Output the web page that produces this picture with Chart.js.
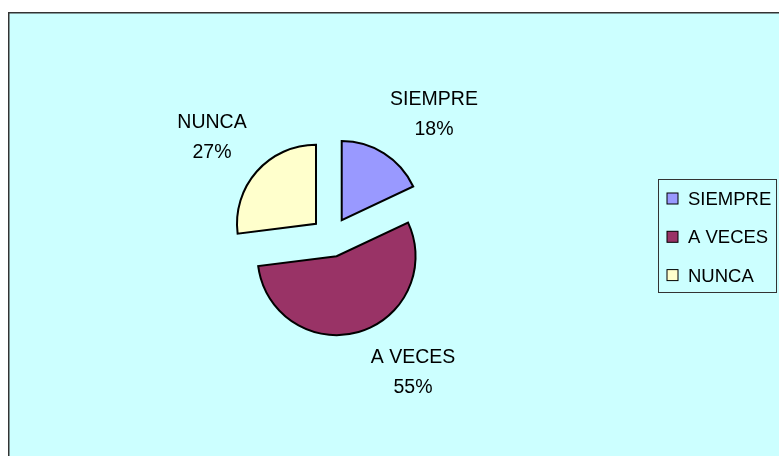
<!DOCTYPE html>
<html>
<head>
<meta charset="utf-8">
<script src="https://cdn.jsdelivr.net/npm/chart.js@4.4.1/dist/chart.umd.min.js"></script>
<style>
  html, body { margin: 0; padding: 0; background: #fff; overflow: hidden; }
  #wrap { position: relative; width: 779px; height: 456px; }
</style>
</head>
<body>
<div id="wrap"><canvas id="pie"></canvas></div>
<script>
// ---------- Data ----------
const categories = ['SIEMPRE', 'A VECES', 'NUNCA'];
const percents = [18, 55, 27];
const sliceColors = ['#9999FF', '#993366', '#FFFFCC'];

// ---------- Layout ----------
const FONT = '19.5px "Liberation Sans", Arial, sans-serif';
const LEGEND_FONT = '18.5px "Liberation Sans", Arial, sans-serif';
const PIE_RADIUS = 79;
const EXPLODE = 20;
// first-line baseline of each data label (name over percentage)
const labelSpots = [
  { x: 434, y: 105 },
  { x: 413, y: 363 },
  { x: 212, y: 128 }
];
const LINE_GAP = 30;
const legendBox = { x: 658.5, y: 179.5, w: 118, h: 113 };

// ---------- Plugins ----------
const frame = {
  id: 'frame',
  beforeDraw(chart) {
    const ctx = chart.ctx;
    ctx.save();
    ctx.fillStyle = '#ffffff';
    ctx.fillRect(0, 0, chart.width, chart.height);
    ctx.fillStyle = '#CCFFFF';
    ctx.fillRect(8, 12, chart.width - 8, chart.height - 12);
    ctx.strokeStyle = '#333333';
    ctx.lineWidth = 1.5;
    ctx.beginPath();
    ctx.moveTo(8.75, chart.height);
    ctx.lineTo(8.75, 12.75);
    ctx.lineTo(chart.width, 12.75);
    ctx.stroke();
    ctx.restore();
  }
};

// pull every slice out from the centre along its middle angle
const explode = {
  id: 'explode',
  beforeDatasetDraw(chart, args) {
    const ctx = chart.ctx;
    args.meta.data.forEach(arc => {
      const mid = (arc.startAngle + arc.endAngle) / 2;
      ctx.save();
      ctx.translate(Math.cos(mid) * EXPLODE, Math.sin(mid) * EXPLODE);
      arc.draw(ctx);
      ctx.restore();
    });
    return false;
  }
};

const sliceLabels = {
  id: 'sliceLabels',
  afterDatasetsDraw(chart) {
    const ctx = chart.ctx;
    const vals = chart.data.datasets[0].data;
    ctx.save();
    ctx.font = FONT;
    ctx.fillStyle = '#000';
    ctx.textAlign = 'center';
    ctx.textBaseline = 'alphabetic';
    chart.data.labels.forEach((name, i) => {
      const p = labelSpots[i];
      ctx.fillText(name, p.x, p.y);
      ctx.fillText(vals[i] + '%', p.x, p.y + LINE_GAP);
    });
    ctx.restore();
  }
};

const boxLegend = {
  id: 'boxLegend',
  afterDraw(chart) {
    const ctx = chart.ctx;
    const b = legendBox;
    const colors = chart.data.datasets[0].backgroundColor;
    ctx.save();
    ctx.strokeStyle = '#333333';
    ctx.lineWidth = 1;
    ctx.strokeRect(b.x, b.y, b.w, b.h);
    ctx.font = LEGEND_FONT;
    ctx.textAlign = 'left';
    ctx.textBaseline = 'alphabetic';
    chart.data.labels.forEach((name, i) => {
      const top = b.y + 13.5 + i * 38.3;
      ctx.fillStyle = colors[i];
      ctx.fillRect(b.x + 8.5, top, 11, 11);
      ctx.strokeStyle = '#000';
      ctx.strokeRect(b.x + 8.5, top, 11, 11);
      ctx.fillStyle = '#000';
      ctx.fillText(name, b.x + 29.5, top + 12);
    });
    ctx.restore();
  }
};

// ---------- Chart ----------
new Chart(document.getElementById('pie'), {
  type: 'pie',
  data: {
    labels: categories,
    datasets: [{
      data: percents,
      backgroundColor: sliceColors,
      borderColor: '#000',
      borderWidth: 2,
      borderJoinStyle: 'miter',
      hoverOffset: 0
    }]
  },
  options: {
    animation: false,
    responsive: true,
    maintainAspectRatio: false,
    radius: PIE_RADIUS,
    layout: { padding: { left: 0, right: 117, top: 18, bottom: 0 } },
    events: [],
    plugins: {
      legend: { display: false },
      tooltip: { enabled: false }
    }
  },
  plugins: [frame, explode, sliceLabels, boxLegend]
});
</script>
</body>
</html>
